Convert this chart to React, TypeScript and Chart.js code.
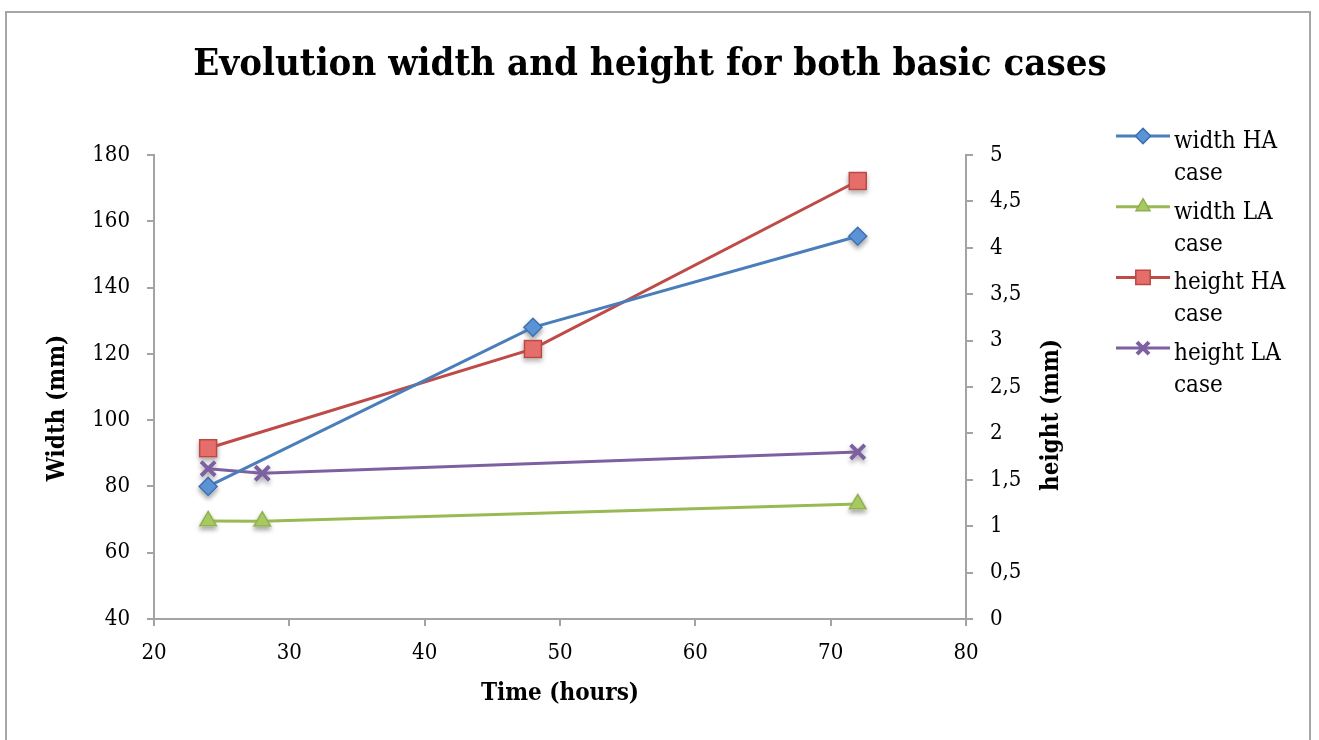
import React, { useEffect, useRef } from 'react';
import { Chart, registerables } from 'chart.js';
import * as helpers from 'chart.js/helpers';

Chart.register(...registerables);

const chartTitle = 'Evolution width and height for both basic cases';
const xTitle = 'Time (hours)';
const yLeftTitle = 'Width (mm)';
const yRightTitle = 'height (mm)';

const seriesNames = [
  ['width HA', 'case'],
  ['width LA', 'case'],
  ['height HA', 'case'],
  ['height LA', 'case'],
];

const widthHAx = [24, 48, 72];
const widthHAy = [80, 128, 155.5];
const widthLAx = [24, 28, 72];
const widthLAy = [69.6, 69.5, 74.7];
const heightHAx = [24, 48, 72];
const heightHAy = [1.84, 2.91, 4.72];
const heightLAx = [24, 28, 72];
const heightLAy = [1.62, 1.57, 1.8];

const xTicks = { min: 20, max: 80, step: 10 };
const yLeftTicks = { min: 40, max: 180, step: 20 };
const yRightTicks = { min: 0, max: 5, step: 0.5 };

const FONT = '"DejaVu Serif Condensed", "DejaVu Serif", serif';
const AXIS_COLOR = '#a3a3a3';

const toPts = (xs: number[], ys: number[]) => xs.map((x, i) => ({ x, y: ys[i] }));

const overlayPlugin = {
  id: 'overlay',
  afterDraw(chart: any) {
    const ctx = chart.ctx as CanvasRenderingContext2D;
    const ca = chart.chartArea;
    ctx.save();
    ctx.fillStyle = '#000';
    ctx.textAlign = 'center';
    ctx.textBaseline = 'middle';
    ctx.font = `bold 38px ${FONT}`;
    ctx.fillText(chartTitle, 650, 65);

    ctx.font = `bold 24px ${FONT}`;
    ctx.fillText(xTitle, (ca.left + ca.right) / 2, 694);

    ctx.save();
    ctx.translate(58, 408);
    ctx.rotate(-Math.PI / 2);
    ctx.fillText(yLeftTitle, 0, 0);
    ctx.restore();

    ctx.save();
    ctx.translate(1052, 415);
    ctx.rotate(-Math.PI / 2);
    ctx.fillText(yRightTitle, 0, 0);
    ctx.restore();

    // legend
    ctx.textAlign = 'left';
    ctx.textBaseline = 'alphabetic';
    ctx.font = `24px ${FONT}`;
    chart.data.datasets.forEach((ds: any, i: number) => {
      const y = 136 + i * 70.7;
      ctx.strokeStyle = ds.borderColor;
      ctx.lineWidth = 3;
      ctx.beginPath();
      ctx.moveTo(1116, y);
      ctx.lineTo(1170, y);
      ctx.stroke();
      ctx.fillStyle = ds.pointBackgroundColor;
      ctx.strokeStyle = ds.pointBorderColor;
      ctx.lineWidth = ds.pointBorderWidth;
      helpers.drawPoint(ctx, { pointStyle: ds.pointStyle, radius: ds.pointRadius * 0.85, borderWidth: ds.pointBorderWidth, rotation: 0 } as any, 1143, y);
      ctx.fillStyle = '#000';
      const lines = seriesNames[i];
      ctx.fillText(lines[0], 1174, y + 12);
      ctx.fillText(lines[1], 1174, y + 44);
    });
    ctx.restore();
  },
};

const shadowPlugin = {
  id: 'markerShadow',
  beforeDatasetsDraw(chart: any) {
    const ctx = chart.ctx as CanvasRenderingContext2D;
    chart.data.datasets.forEach((ds: any, i: number) => {
      const meta = chart.getDatasetMeta(i);
      meta.data.forEach((pt: any) => {
        ctx.save();
        ctx.shadowColor = 'rgba(0,0,0,0.35)';
        ctx.shadowBlur = 5;
        ctx.shadowOffsetY = 3;
        ctx.fillStyle = '#fff';
        ctx.strokeStyle = '#fff';
        ctx.lineWidth = ds.pointBorderWidth;
        helpers.drawPoint(ctx, { pointStyle: ds.pointStyle, radius: ds.pointRadius, borderWidth: ds.pointBorderWidth, rotation: 0 } as any, pt.x, pt.y);
        ctx.restore();
      });
    });
  },
};

export default function App() {
  const ref = useRef<HTMLCanvasElement>(null);
  useEffect(() => {
    if (!ref.current) return;
    Chart.defaults.font.family = FONT;
    Chart.defaults.color = '#000';
    const axisCommon = {
      grid: { display: true, drawOnChartArea: false, drawTicks: true, tickLength: 7, color: AXIS_COLOR, lineWidth: 2 },
      border: { display: true, color: AXIS_COLOR, width: 2 },
    };
    const chart = new Chart(ref.current, {
      type: 'line',
      data: {
        datasets: [
          {
            label: seriesNames[0].join(' '),
            data: toPts(widthHAx, widthHAy),
            yAxisID: 'y',
            borderColor: '#4a7ebb',
            borderWidth: 3,
            pointStyle: 'rectRot',
            pointRadius: 9,
            pointBackgroundColor: '#5a93d6',
            pointBorderColor: '#3f70ad',
            pointBorderWidth: 1.5,
          },
          {
            label: seriesNames[1].join(' '),
            data: toPts(widthLAx, widthLAy),
            yAxisID: 'y',
            borderColor: '#98b954',
            borderWidth: 3,
            pointStyle: 'triangle',
            pointRadius: 9.5,
            pointBackgroundColor: '#a7c963',
            pointBorderColor: '#8fb04c',
            pointBorderWidth: 1.5,
          },
          {
            label: seriesNames[2].join(' '),
            data: toPts(heightHAx, heightHAy),
            yAxisID: 'y2',
            borderColor: '#be4b48',
            borderWidth: 3,
            pointStyle: 'rect',
            pointRadius: 12,
            pointBackgroundColor: '#e56e6b',
            pointBorderColor: '#bb4845',
            pointBorderWidth: 1.5,
          },
          {
            label: seriesNames[3].join(' '),
            data: toPts(heightLAx, heightLAy),
            yAxisID: 'y2',
            borderColor: '#7d60a0',
            borderWidth: 3,
            pointStyle: 'crossRot',
            pointRadius: 10,
            pointBackgroundColor: '#7d60a0',
            pointBorderColor: '#7d60a0',
            pointBorderWidth: 4,
          },
        ],
      },
      options: {
        animation: false,
        responsive: false,
        devicePixelRatio: 1,
        layout: { padding: { top: 155, right: 219, left: 0, bottom: 0 } },
        plugins: { legend: { display: false }, title: { display: false }, tooltip: { enabled: false } },
        scales: {
          x: {
            type: 'linear',
            position: 'bottom',
            min: xTicks.min,
            max: xTicks.max,
            ticks: { stepSize: xTicks.step, padding: 14, font: { size: 22 }, color: '#000' },
            ...axisCommon,
            afterFit: (s: any) => { s.height = 121; },
          },
          y: {
            type: 'linear',
            position: 'left',
            min: yLeftTicks.min,
            max: yLeftTicks.max,
            ticks: { stepSize: yLeftTicks.step, padding: 17, font: { size: 22 }, color: '#000' },
            ...axisCommon,
            afterFit: (s: any) => { s.width = 154; },
          },
          y2: {
            type: 'linear',
            position: 'right',
            min: yRightTicks.min,
            max: yRightTicks.max,
            ticks: {
              stepSize: yRightTicks.step,
              padding: 17,
              font: { size: 22 },
              color: '#000',
              callback: (v: any) => String(v).replace('.', ','),
            },
            ...axisCommon,
            afterFit: (s: any) => { s.width = 134; },
          },
        },
      } as any,
      plugins: [shadowPlugin, overlayPlugin],
    });
    return () => chart.destroy();
  }, []);

  return (
    <div style={{ position: 'absolute', left: 0, top: 0, width: 1319, height: 740, overflow: 'hidden', background: '#fff' }}>
      <div style={{ position: 'absolute', left: 5, top: 11, width: 1306, height: 760, border: '2px solid #a6a6a6', boxSizing: 'border-box' }} />
      <canvas ref={ref} width={1319} height={740} style={{ position: 'absolute', left: 0, top: 0, display: 'block' }} />
    </div>
  );
}
